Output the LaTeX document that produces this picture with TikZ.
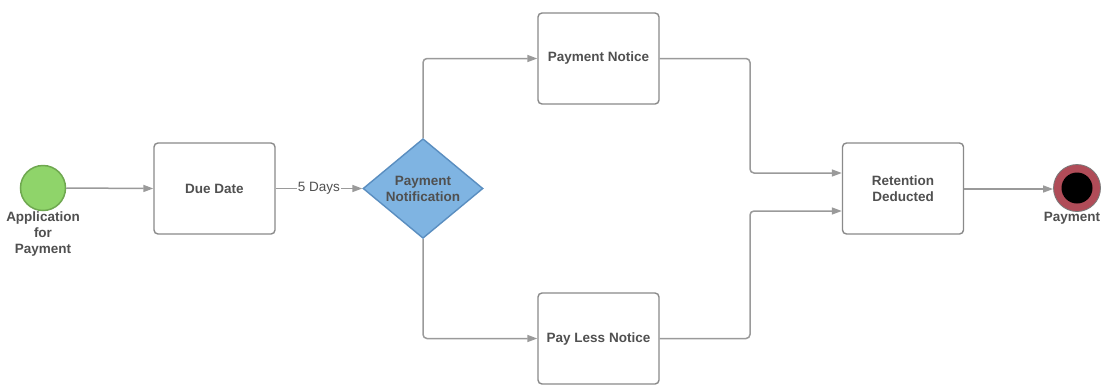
\documentclass[tikz,border=0pt]{standalone}
\usepackage{fontspec}
\setmainfont{Liberation Sans}
\usetikzlibrary{shapes.geometric,arrows.meta}
\definecolor{linegray}{HTML}{9A9A9A}
\definecolor{boxgray}{HTML}{8A8A8A}
\definecolor{txtgray}{HTML}{505050}
\definecolor{startgreen}{HTML}{8FD46A}
\definecolor{startborder}{HTML}{6FA850}
\definecolor{diafill}{HTML}{7FB4E2}
\definecolor{diaborder}{HTML}{5A8EC0}
\definecolor{endring}{HTML}{B04C58}
\definecolor{endborder}{HTML}{7A7A7A}
\begin{document}
\begin{tikzpicture}[x=1pt,y=-1pt,
  every node/.style={font=\fontsize{13.5}{16}\selectfont\bfseries, text=txtgray},
  procbox/.style={draw=boxgray, line width=1.4pt, rounded corners=4pt, fill=white,
    minimum width=121pt, minimum height=91pt, inner sep=0pt, align=center},
  flow/.style={draw=linegray, line width=1.5pt, -{Triangle[length=10pt,width=7pt]}},
  lbl/.style={align=center, inner sep=0pt}
]
\useasboundingbox (0,0) rectangle (1102,384);
\fill[white] (0,0) rectangle (1102,384);

% start event
\node (start) [circle, draw=startborder, line width=1.5pt, fill=startgreen, minimum size=45pt, inner sep=0pt] at (43,188) {};
\node (startlbl) [lbl, anchor=north] at (43,212) {Application\\for\\Payment};

% tasks
\node (due) [procbox] at (214.5,188.5) {Due Date};
\node (dec) [diamond, draw=diaborder, line width=1.4pt, fill=diafill, minimum width=120pt, minimum height=92pt, inner sep=0pt, align=center] at (423,188.5) {Payment\\Notification};
\node (pn) [procbox] at (598.5,58.5) {Payment Notice};
\node (pln) [procbox] at (598.5,338.5) {Pay Less Notice};
\node (ret) [procbox] at (903,188.5) {Retention\\Deducted};

% end event
\node (end) [circle, draw=endborder, line width=0.8pt, fill=endring, minimum size=47pt, inner sep=0pt] at (1077,188) {};
\node (endin) [circle, fill=black, minimum size=31pt, inner sep=0pt] at (end.center) {};
\node (endlbl) [lbl, anchor=north] at (1072,212) {Payment};

% connectors
\draw[flow] (start.east) -- (due.west);
\draw[flow] (due.east) -- node[fill=white, inner sep=1pt, font=\fontsize{13.5}{16}\selectfont\mdseries] (days) {5 Days} (dec.west);
\draw[flow, rounded corners=4pt] (dec.north) |- (pn.west);
\draw[flow, rounded corners=4pt] (dec.south) |- (pln.west);
\coordinate (rin1) at (ret.west |- 0,173);
\coordinate (rin2) at (ret.west |- 0,211);
\draw[flow, rounded corners=4pt] (pn.east) -- (750,58.5) -- (750,173) -- (rin1);
\draw[flow, rounded corners=4pt] (pln.east) -- (750,338.5) -- (750,211) -- (rin2);
\draw[flow] (ret.east |- 0,189) -- (end.west |- 0,189);
\end{tikzpicture}
\end{document}
